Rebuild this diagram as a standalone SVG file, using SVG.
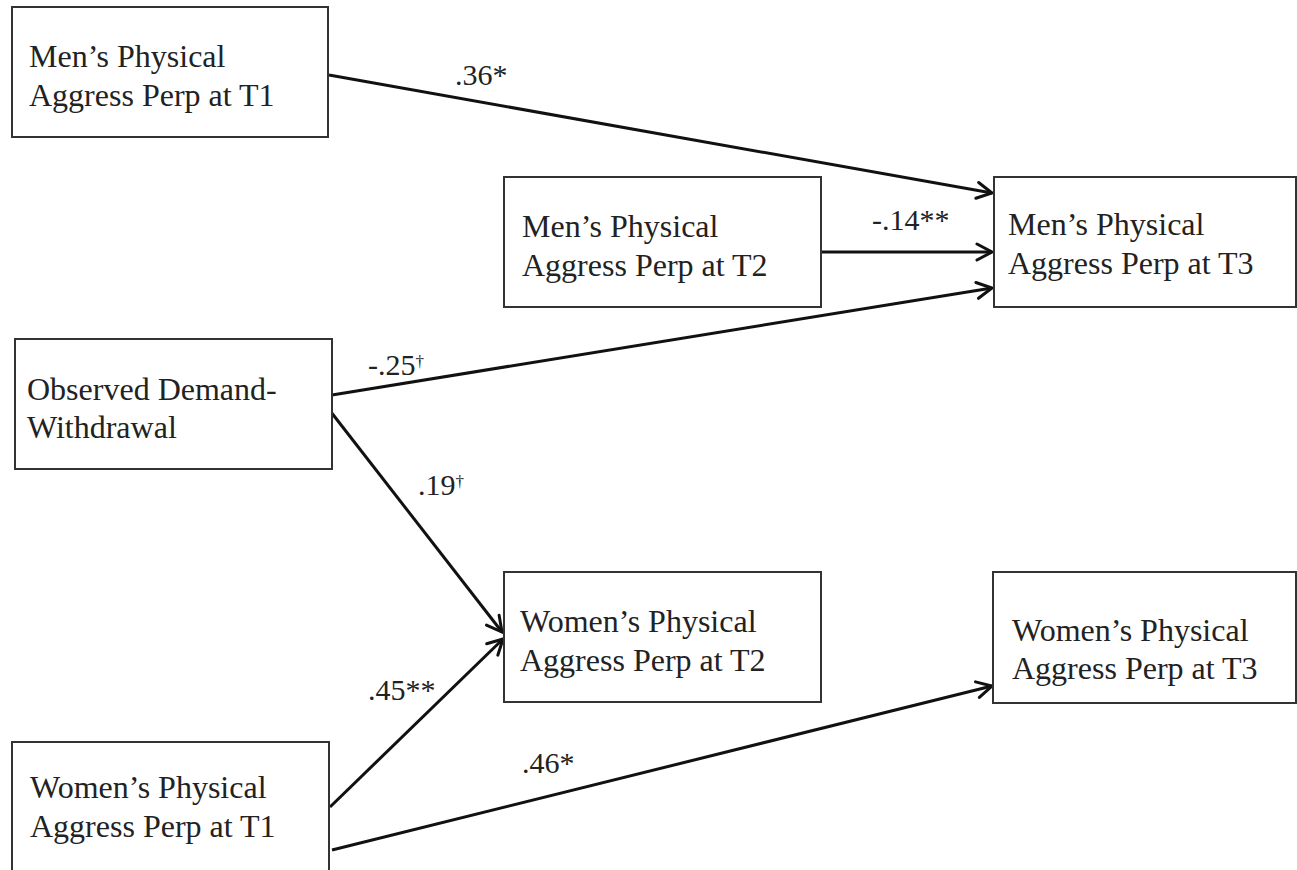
<svg xmlns="http://www.w3.org/2000/svg" width="1297" height="870" viewBox="0 0 1297 870">
<style>
.box{fill:#fff;stroke:#333;stroke-width:2}
.t{font-family:"Liberation Serif","Times New Roman",serif;font-size:32px;fill:#222}
.lbl{font-family:"Liberation Serif","Times New Roman",serif;font-size:30px;fill:#222}
.sup{font-size:17px}
.edge{stroke:#111;stroke-width:3;fill:none;marker-end:url(#ah)}
</style>
<defs>
<marker id="ah" markerUnits="userSpaceOnUse" markerWidth="24" markerHeight="24" viewBox="-20 -12 24 24" refX="0" refY="0" orient="auto">
<path d="M -15 -8 L 0 0 L -15 8" fill="none" stroke="#111" stroke-width="3" stroke-linecap="round" stroke-linejoin="miter"/>
</marker>
</defs>
<rect width="1297" height="870" fill="#fff"/>
<g id="connectors">
<line class="edge" x1="329" y1="75" x2="992" y2="193"/>
<line class="edge" x1="821" y1="252" x2="992" y2="252"/>
<line class="edge" x1="332" y1="395" x2="992" y2="288"/>
<line class="edge" x1="331" y1="412" x2="502" y2="632"/>
<line class="edge" x1="330" y1="807" x2="503" y2="639"/>
<line class="edge" x1="332" y1="850" x2="992" y2="686"/>
<text class="lbl" x="455" y="85">.36*</text>
<text class="lbl" x="872" y="230">-.14**</text>
<text class="lbl" x="368" y="375">-.25<tspan class="sup" dy="-8">†</tspan></text>
<text class="lbl" x="418" y="495">.19<tspan class="sup" dy="-8">†</tspan></text>
<text class="lbl" x="368" y="700">.45**</text>
<text class="lbl" x="522" y="773">.46*</text>
</g>
<g id="men_t1">
<rect class="box" x="12" y="7" width="316" height="130"/>
<text class="t" x="29" y="67">Men’s Physical</text>
<text class="t" x="29" y="106">Aggress Perp at T1</text>
</g>
<g id="men_t2">
<rect class="box" x="504" y="177" width="317" height="130"/>
<text class="t" x="522" y="237">Men’s Physical</text>
<text class="t" x="522" y="276">Aggress Perp at T2</text>
</g>
<g id="men_t3">
<rect class="box" x="994" y="177" width="302" height="130"/>
<text class="t" x="1008" y="235">Men’s Physical</text>
<text class="t" x="1008" y="274">Aggress Perp at T3</text>
</g>
<g id="observed_dw">
<rect class="box" x="15" y="339" width="317" height="130"/>
<text class="t" x="27" y="400">Observed Demand-</text>
<text class="t" x="27" y="438">Withdrawal</text>
</g>
<g id="women_t2">
<rect class="box" x="504" y="572" width="317" height="130"/>
<text class="t" x="520" y="632">Women’s Physical</text>
<text class="t" x="520" y="671">Aggress Perp at T2</text>
</g>
<g id="women_t3">
<rect class="box" x="993" y="572" width="303" height="131"/>
<text class="t" x="1012" y="641">Women’s Physical</text>
<text class="t" x="1012" y="679">Aggress Perp at T3</text>
</g>
<g id="women_t1">
<rect class="box" x="12" y="742" width="317" height="140"/>
<text class="t" x="30" y="798">Women’s Physical</text>
<text class="t" x="30" y="837">Aggress Perp at T1</text>
</g>
</svg>
